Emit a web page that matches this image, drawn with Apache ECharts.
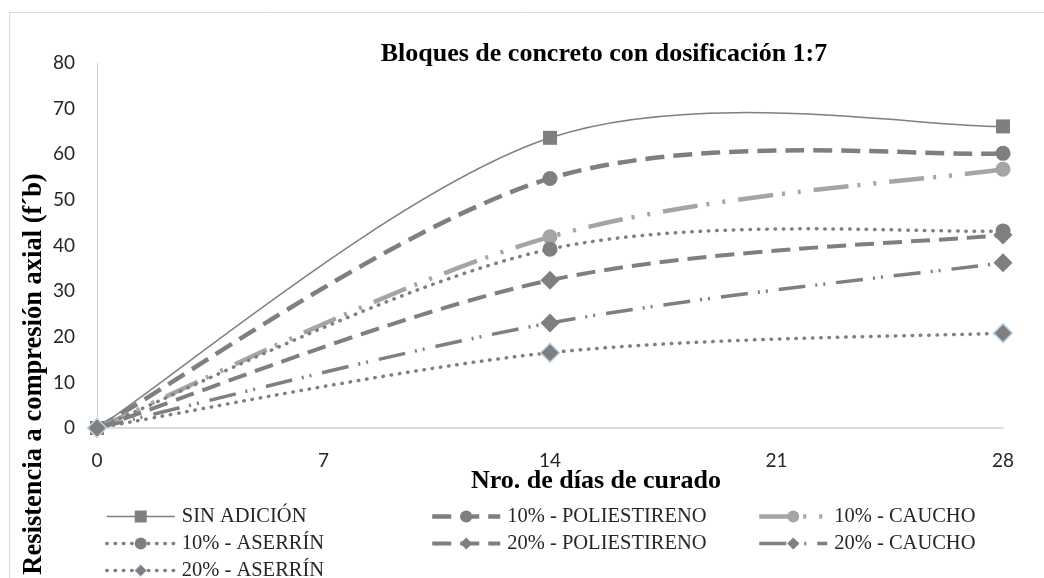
<!DOCTYPE html>
<html>
<head>
<meta charset="utf-8">
<script src="https://cdn.jsdelivr.net/npm/echarts@6/dist/echarts.min.js"></script>
<style>
  html, body { margin: 0; padding: 0; background: #fff; }
  #chart { width: 1044px; height: 578px; }
</style>
</head>
<body>
<div id="chart"></div>
<script>
// dias de curado
var days = [0, 14, 28];
var xTicks = [0, 7, 14, 21, 28];

// resistencia a compresion axial (f'b)
var sinAdicion = [0, 63.6, 66.1];
var poliestireno10 = [0, 54.7, 60.2];
var caucho10 = [0, 41.9, 56.7];
var aserrin10 = [0, 39.2, 43.2];
var poliestireno20 = [0, 32.4, 42.3];
var caucho20 = [0, 23.0, 36.2];
var aserrin20 = [0, 16.5, 20.8];

var serif = '"Liberation Serif", "Times New Roman", serif';

var lines = [
  { name: 'SIN ADICIÓN', values: sinAdicion, color: '#7f7f7f', width: 1.5, dash: null, cap: 'butt', symbol: 'rect', size: 14 },
  { name: '10% - POLIESTIRENO', values: poliestireno10, color: '#7f7f7f', width: 4.5, dash: [19, 9], cap: 'butt', symbol: 'circle', size: 15 },
  { name: '10% - CAUCHO', values: caucho10, color: '#a5a5a5', width: 4.5, dash: [35, 9, 3, 13, 3, 13], cap: 'butt', symbol: 'circle', size: 15 },
  { name: '10% - ASERRÍN', values: aserrin10, color: '#7f7f7f', width: 3.5, dash: [0.5, 7.8], cap: 'round', symbol: 'circle', size: 15 },
  { name: '20% - POLIESTIRENO', values: poliestireno20, color: '#7f7f7f', width: 4, dash: [19, 9], cap: 'butt', symbol: 'diamond', size: 19 },
  { name: '20% - CAUCHO', values: caucho20, color: '#7f7f7f', width: 3.5, dash: [27, 10, 2, 6, 2, 11], cap: 'butt', symbol: 'diamond', size: 19 },
  { name: '20% - ASERRÍN', values: aserrin20, color: '#7f7f7f', width: 3.5, dash: [0.5, 7.8], cap: 'round', symbol: 'diamond', size: 19, border: '#bdd7ee' }
];

// curva suavizada tipo Excel (bezier, 1/6 de la diferencia de vecinos)
function curve(l) {
  return function (params, api) {
    if (params.dataIndex !== 0) return null;
    var pts = days.map(function (d, i) { return api.coord([d, l.values[i]]); });
    var n = pts.length;
    var path = 'M' + pts[0][0] + ' ' + pts[0][1];
    for (var i = 0; i < n - 1; i++) {
      var p0 = pts[Math.max(i - 1, 0)], p1 = pts[i], p2 = pts[i + 1], p3 = pts[Math.min(i + 2, n - 1)];
      var c1x = p1[0] + (p2[0] - p0[0]) / 6, c1y = p1[1] + (p2[1] - p0[1]) / 6;
      var c2x = p2[0] - (p3[0] - p1[0]) / 6, c2y = p2[1] - (p3[1] - p1[1]) / 6;
      path += ' C' + c1x + ' ' + c1y + ' ' + c2x + ' ' + c2y + ' ' + p2[0] + ' ' + p2[1];
    }
    return {
      type: 'path',
      shape: { pathData: path },
      style: { fill: 'none', stroke: l.color, lineWidth: l.width, lineDash: l.dash, lineCap: l.cap }
    };
  };
}

function legendItem(l) {
  return {
    name: l.name,
    lineStyle: { color: l.color, width: l.width, type: l.dash || 'solid', cap: l.cap, opacity: 1 },
    itemStyle: { color: l.color, borderColor: l.border || l.color, borderWidth: l.border ? 1 : 0, opacity: 1 }
  };
}

function legendCol(left, names) {
  return {
    orient: 'vertical',
    left: left,
    top: 506,
    height: 120,
    padding: 0,
    itemWidth: 68,
    itemHeight: 15,
    itemGap: 6,
    selectedMode: false,
    textStyle: { fontFamily: serif, fontSize: 20.5, color: '#262626', lineHeight: 21, padding: [0, 0, 0, 2] },
    data: lines.filter(function (l) { return names.indexOf(l.name) >= 0; }).map(legendItem)
  };
}

var series = [];
lines.forEach(function (l) {
  series.push({
    name: l.name,
    type: 'line',
    data: days.map(function (d, i) { return [d, l.values[i]]; }),
    color: l.color,
    symbol: l.symbol,
    symbolSize: l.size,
    showSymbol: true,
    lineStyle: { color: l.color, width: l.width, opacity: 0 },
    itemStyle: { color: l.color, borderColor: l.border || l.color, borderWidth: l.border ? 1.5 : 0, opacity: 1 },
    emphasis: { disabled: true },
    z: 4
  });
});
lines.forEach(function (l) {
  series.push({
    name: l.name,
    type: 'custom',
    renderItem: curve(l),
    data: days.map(function (d, i) { return [d, l.values[i]]; }),
    encode: { x: 0, y: 1 },
    silent: true,
    z: 2
  });
});

var chart = echarts.init(document.getElementById('chart'));
chart.setOption({
  backgroundColor: '#ffffff',
  animation: false,
  grid: { left: 97, right: 41, top: 63, bottom: 150 },
  xAxis: {
    type: 'value',
    min: 0,
    max: 28,
    interval: 7,
    axisLine: { show: true, lineStyle: { color: '#d0d0d0', width: 1.5 } },
    axisTick: { show: false },
    splitLine: { show: false },
    axisLabel: {
      margin: 23,
      fontFamily: 'Lato, "Open Sans", sans-serif',
      fontSize: 19,
      color: '#262626',
      customValues: xTicks
    }
  },
  yAxis: {
    type: 'value',
    min: 0,
    max: 80,
    interval: 10,
    axisLine: { show: true, lineStyle: { color: '#d0d0d0', width: 1 } },
    axisTick: { show: false },
    splitLine: { show: false },
    axisLabel: {
      margin: 22,
      fontFamily: 'Lato, "Open Sans", sans-serif',
      fontSize: 19,
      color: '#262626'
    }
  },
  legend: [
    legendCol(105, ['SIN ADICIÓN', '10% - ASERRÍN', '20% - ASERRÍN']),
    legendCol(430, ['10% - POLIESTIRENO', '20% - POLIESTIRENO']),
    legendCol(757, ['10% - CAUCHO', '20% - CAUCHO'])
  ],
  graphic: [
    {
      type: 'rect', silent: true, z: -10,
      shape: { x: 9.5, y: 12.5, width: 1100, height: 700 },
      style: { fill: 'none', stroke: '#d9d9d9', lineWidth: 1 }
    },
    {
      type: 'text', x: 604, y: 54,
      style: { text: 'Bloques de concreto con dosificación 1:7', fontFamily: serif, fontWeight: 'bold', fontSize: 26, fill: '#000', align: 'center', verticalAlign: 'middle' }
    },
    {
      type: 'text', x: 596, y: 481,
      style: { text: 'Nro. de días de curado', fontFamily: serif, fontWeight: 'bold', fontSize: 26, fill: '#000', align: 'center', verticalAlign: 'middle' }
    },
    {
      type: 'text', x: 34, y: 374, rotation: Math.PI / 2,
      style: { text: 'Resistencia a compresión axial (f´b)', fontFamily: serif, fontWeight: 'bold', fontSize: 26.5, fill: '#000', align: 'center', verticalAlign: 'middle' }
    }
  ],
  series: series
});
</script>
</body>
</html>
